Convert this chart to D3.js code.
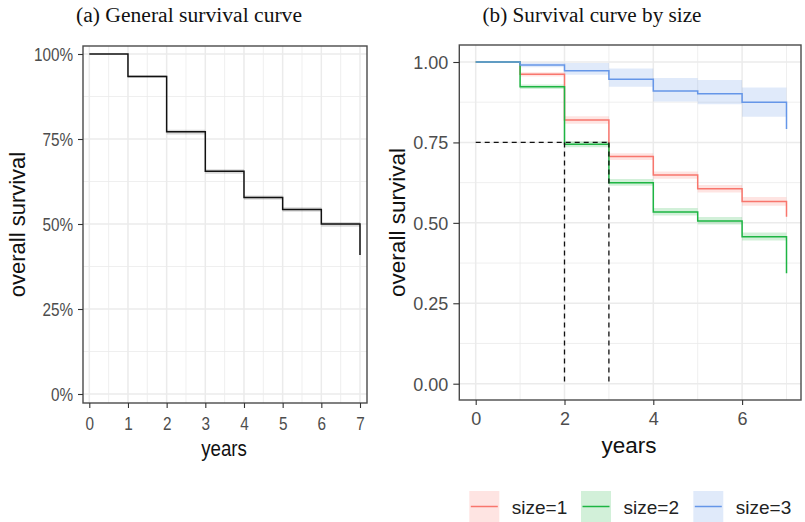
<!DOCTYPE html>
<html>
<head>
<meta charset="utf-8">
<script src="https://cdn.jsdelivr.net/npm/d3@7"></script>
<style>
  html, body { margin: 0; padding: 0; background: #fff; }
  svg { display: block; }
</style>
</head>
<body>
<svg id="chart" width="805" height="522"></svg>
<script>
// ---- data ----
const years = [0, 1, 2, 3, 4, 5, 6, 7];

// overall Kaplan-Meier estimate with confidence limits
const overallSurv  = [1.000, 0.934, 0.771, 0.655, 0.578, 0.543, 0.500, 0.409];
const overallLower = [1.000, 0.930, 0.763, 0.648, 0.571, 0.536, 0.492, 0.409];
const overallUpper = [1.000, 0.938, 0.777, 0.661, 0.584, 0.549, 0.506, 0.409];

// estimates by size group
const size1Surv  = [1.000, 0.962, 0.820, 0.706, 0.649, 0.606, 0.566, 0.519];
const size1Lower = [1.000, 0.955, 0.808, 0.695, 0.637, 0.594, 0.553, 0.519];
const size1Upper = [1.000, 0.968, 0.831, 0.716, 0.660, 0.618, 0.580, 0.519];

const size2Surv  = [1.000, 0.923, 0.744, 0.625, 0.534, 0.506, 0.457, 0.343];
const size2Lower = [1.000, 0.916, 0.735, 0.615, 0.523, 0.495, 0.445, 0.343];
const size2Upper = [1.000, 0.930, 0.754, 0.636, 0.546, 0.518, 0.470, 0.343];

const size3Surv  = [1.000, 0.991, 0.973, 0.946, 0.910, 0.901, 0.875, 0.792];
const size3Lower = [1.000, 0.984, 0.960, 0.923, 0.877, 0.869, 0.830, 0.792];
const size3Upper = [1.000, 0.998, 0.997, 0.980, 0.950, 0.944, 0.921, 0.792];

const groupLabels = ["size=1", "size=2", "size=3"];
const groupColors = ["#F8766D", "#1DB543", "#6596E8"];

const survTicks = [0, 0.25, 0.5, 0.75, 1];
const survMinor = [0.125, 0.375, 0.625, 0.875];
const leftYearTicks = [0, 1, 2, 3, 4, 5, 6, 7];
const leftYearMinor = [0.5, 1.5, 2.5, 3.5, 4.5, 5.5, 6.5];
const rightYearTicks = [0, 2, 4, 6];
const rightYearMinor = [1, 3, 5, 7];

const medianLevel = 0.75;
const medianYears = [2, 3];

// ---- drawing ----
const svg = d3.select("#chart");
const SANS = "'Liberation Sans', Arial, sans-serif";
const SERIF = "'Liberation Serif', 'Times New Roman', serif";

function stepPoints(surv) {
  return years.map((t, i) => ({ t, s: surv[i] }));
}
function bandPoints(lo, hi) {
  const n = years.length;
  const pts = years.slice(0, n - 1).map((t, i) => ({ t, lo: lo[i], hi: hi[i] }));
  pts.push({ t: years[n - 1], lo: lo[n - 2], hi: hi[n - 2] });
  return pts;
}

function gridAndFrame(g, x, y, box, xMaj, xMin) {
  const grid = g.append("g");
  survMinor.forEach(v => grid.append("line")
    .attr("x1", box.l).attr("x2", box.r).attr("y1", y(v)).attr("y2", y(v))
    .attr("stroke", "#EBEBEB").attr("stroke-width", 0.8));
  xMin.forEach(v => grid.append("line")
    .attr("y1", box.t).attr("y2", box.b).attr("x1", x(v)).attr("x2", x(v))
    .attr("stroke", "#EBEBEB").attr("stroke-width", 0.8));
  survTicks.forEach(v => grid.append("line")
    .attr("x1", box.l).attr("x2", box.r).attr("y1", y(v)).attr("y2", y(v))
    .attr("stroke", "#EBEBEB").attr("stroke-width", 1.5));
  xMaj.forEach(v => grid.append("line")
    .attr("y1", box.t).attr("y2", box.b).attr("x1", x(v)).attr("x2", x(v))
    .attr("stroke", "#EBEBEB").attr("stroke-width", 1.5));
}
function frame(g, box) {
  g.append("rect").attr("x", box.l).attr("y", box.t)
    .attr("width", box.r - box.l).attr("height", box.b - box.t)
    .attr("fill", "none").attr("stroke", "#4a4a4a").attr("stroke-width", 1.4);
}

// ===== Panel (a) =====
{
  const box = { l: 83, r: 367, t: 46, b: 403 };
  const x = d3.scaleLinear().domain([0, 7]).range([89.3, 360]);
  const y = d3.scaleLinear().domain([0, 1]).range([394, 54]);
  const g = svg.append("g");
  const sx = 0.85;

  gridAndFrame(g, x, y, box, leftYearTicks, leftYearMinor);

  const area = d3.area().curve(d3.curveStepAfter)
    .x(d => x(d.t)).y0(d => y(d.lo)).y1(d => y(d.hi));
  g.append("path").datum(bandPoints(overallLower, overallUpper))
    .attr("d", area).attr("fill", "#000").attr("fill-opacity", 0.15);

  const line = d3.line().curve(d3.curveStepAfter).x(d => x(d.t)).y(d => y(d.s));
  g.append("path").datum(stepPoints(overallSurv))
    .attr("d", line).attr("fill", "none").attr("stroke", "#111").attr("stroke-width", 1.5);

  frame(g, box);

  // axes
  const ya = g.append("g").attr("transform", `translate(${box.l},0)`)
    .call(d3.axisLeft(y).tickValues(survTicks).tickSize(5).tickSizeOuter(0)
      .tickFormat(d3.format(".0%")));
  ya.select(".domain").remove();
  ya.selectAll("line").attr("stroke", "#333").attr("stroke-width", 1.1);
  ya.selectAll("text").attr("x", 0).attr("dy", "0.36em")
    .attr("transform", `translate(-10,0) scale(${sx},1)`)
    .attr("fill", "#4D4D4D").style("font-family", SANS).style("font-size", "18px");

  const xa = g.append("g").attr("transform", `translate(0,${box.b})`)
    .call(d3.axisBottom(x).tickValues(leftYearTicks).tickSize(5).tickSizeOuter(0)
      .tickFormat(d3.format("d")));
  xa.select(".domain").remove();
  xa.selectAll("line").attr("stroke", "#333").attr("stroke-width", 1.1);
  xa.selectAll("text").attr("y", 27).attr("dy", 0)
    .attr("transform", `scale(${sx},1)`)
    .attr("fill", "#4D4D4D").style("font-family", SANS).style("font-size", "18px");

  g.append("text").attr("transform", `translate(224,456) scale(${sx},1)`)
    .attr("text-anchor", "middle").style("font-family", SANS).style("font-size", "22px")
    .attr("fill", "#111").text("years");
  g.append("text").attr("transform", `translate(25,${(box.t + box.b) / 2}) rotate(-90)`)
    .attr("text-anchor", "middle").style("font-family", SANS).style("font-size", "22px")
    .attr("fill", "#111").text("overall survival");

  g.append("text").attr("x", 189).attr("y", 22).attr("text-anchor", "middle")
    .style("font-family", SERIF).style("font-size", "20px").attr("fill", "#111")
    .attr("textLength", 226).attr("lengthAdjust", "spacingAndGlyphs")
    .text("(a) General survival curve");
}

// ===== Panel (b) =====
{
  const box = { l: 459.3, r: 801, t: 45, b: 400 };
  const x = d3.scaleLinear().domain([0, 7]).range([475.7, 786.5]);
  const y = d3.scaleLinear().domain([0, 1]).range([383.7, 62]);
  const g = svg.append("g");

  gridAndFrame(g, x, y, box, rightYearTicks, rightYearMinor);

  const groups = [
    { surv: size1Surv, lo: size1Lower, hi: size1Upper },
    { surv: size2Surv, lo: size2Lower, hi: size2Upper },
    { surv: size3Surv, lo: size3Lower, hi: size3Upper }
  ];

  const area = d3.area().curve(d3.curveStepAfter)
    .x(d => x(d.t)).y0(d => y(d.lo)).y1(d => y(d.hi));
  groups.forEach((gr, i) => {
    g.append("path").datum(bandPoints(gr.lo, gr.hi))
      .attr("d", area).attr("fill", groupColors[i]).attr("fill-opacity", 0.2);
  });
  const line = d3.line().curve(d3.curveStepAfter).x(d => x(d.t)).y(d => y(d.s));
  groups.forEach((gr, i) => {
    g.append("path").datum(stepPoints(gr.surv))
      .attr("d", line).attr("fill", "none")
      .attr("stroke", groupColors[i]).attr("stroke-width", 1.5);
  });

  // median reference lines
  const dash = g.append("g").attr("stroke", "#111").attr("stroke-width", 1.3)
    .attr("stroke-dasharray", "5,4").attr("fill", "none");
  dash.append("line").attr("x1", x(0)).attr("x2", x(d3.max(medianYears)))
    .attr("y1", y(medianLevel)).attr("y2", y(medianLevel));
  medianYears.forEach(t => dash.append("line")
    .attr("x1", x(t)).attr("x2", x(t)).attr("y1", y(medianLevel)).attr("y2", y(0)));

  frame(g, box);

  const ya = g.append("g").attr("transform", `translate(${box.l},0)`)
    .call(d3.axisLeft(y).tickValues(survTicks).tickSize(6).tickSizeOuter(0)
      .tickFormat(d3.format(".2f")));
  ya.select(".domain").remove();
  ya.selectAll("line").attr("stroke", "#333").attr("stroke-width", 1.1);
  ya.selectAll("text").attr("x", -11).attr("dy", "0.36em")
    .attr("fill", "#4D4D4D").style("font-family", SANS).style("font-size", "18px");

  const xa = g.append("g").attr("transform", `translate(0,${box.b})`)
    .call(d3.axisBottom(x).tickValues(rightYearTicks).tickSize(5).tickSizeOuter(0)
      .tickFormat(d3.format("d")));
  xa.select(".domain").remove();
  xa.selectAll("line").attr("stroke", "#333").attr("stroke-width", 1.1);
  xa.selectAll("text").attr("y", 25).attr("dy", 0)
    .attr("fill", "#4D4D4D").style("font-family", SANS).style("font-size", "18px");

  g.append("text").attr("x", 629).attr("y", 453).attr("text-anchor", "middle")
    .style("font-family", SANS).style("font-size", "22.5px").attr("fill", "#111").text("years");
  g.append("text").attr("transform", `translate(405,${(box.t + box.b) / 2}) rotate(-90)`)
    .attr("text-anchor", "middle").style("font-family", SANS).style("font-size", "22.5px")
    .attr("fill", "#111").text("overall survival");

  g.append("text").attr("x", 592).attr("y", 22).attr("text-anchor", "middle")
    .style("font-family", SERIF).style("font-size", "20px").attr("fill", "#111")
    .attr("textLength", 219).attr("lengthAdjust", "spacingAndGlyphs")
    .text("(b) Survival curve by size");

  // legend
  const keyX = [469.3, 581, 693.3];
  const leg = svg.append("g");
  groupLabels.forEach((lab, i) => {
    const k = leg.append("g").attr("transform", `translate(${keyX[i]},491)`);
    k.append("rect").attr("width", 30).attr("height", 31)
      .attr("fill", groupColors[i]).attr("fill-opacity", 0.2);
    k.append("line").attr("x1", 1.5).attr("x2", 28.5).attr("y1", 15.5).attr("y2", 15.5)
      .attr("stroke", groupColors[i]).attr("stroke-width", 1.5);
    k.append("text").attr("x", 42.5).attr("y", 22.5)
      .style("font-family", SANS).style("font-size", "19px").attr("fill", "#222").text(lab);
  });
}
</script>
</body>
</html>
